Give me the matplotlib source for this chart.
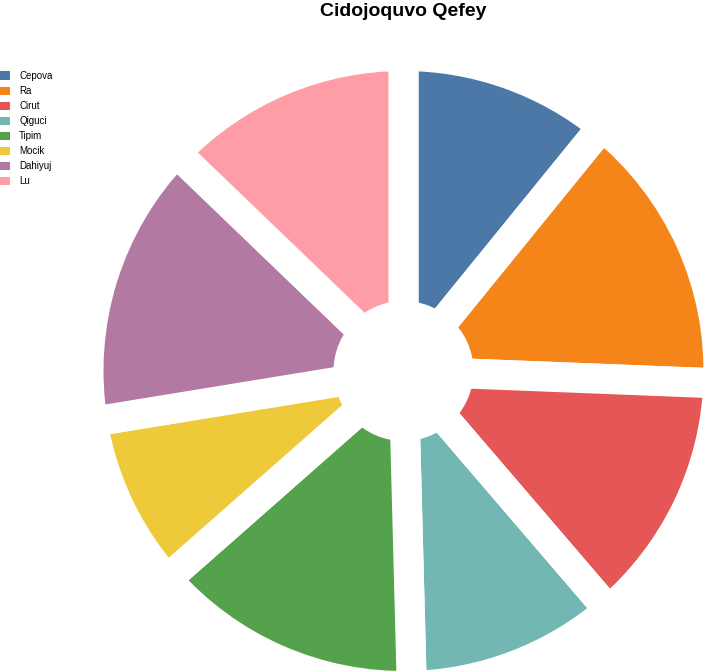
import matplotlib
matplotlib.use("Agg")
import matplotlib.pyplot as plt

plt.rcParams['font.family'] = ['Liberation Sans', 'DejaVu Sans']

labels = ["Cepova", "Ra", "Cirut", "Qiguci", "Tipim", "Mocik", "Dahiyuj", "Lu"]
values = [39, 53, 47, 39, 50, 32, 53, 46]
colors = ["#4c78a8", "#f58518", "#e45756", "#72b7b2",
          "#54a24b", "#eeca3b", "#b279a2", "#ff9da6"]

W, H = 704, 671
fig = plt.figure(figsize=(W / 100, H / 100), dpi=100)
ax = fig.add_axes([0, 0, 1, 1])

# pie in pixel units; white strokes make the gaps between slices
cx, cy = 403.5, H - 371
r_out, r_in = 315, 55
wedges, _ = ax.pie(values, colors=colors, startangle=90, counterclock=False,
                   center=(cx, cy), radius=r_out, frame=True,
                   wedgeprops=dict(width=r_out - r_in, edgecolor="white",
                                   linewidth=21.6))
ax.set_xlim(0, W)
ax.set_ylim(0, H)
ax.set_aspect("equal")
ax.axis("off")

leg = ax.legend(wedges, labels, loc="upper left",
                bbox_to_anchor=(0, 1 - 71 / H), bbox_transform=fig.transFigure,
                frameon=False, fontsize=7, handlelength=1.03, handleheight=0.95,
                handletextpad=0.93, labelspacing=0.52, borderpad=0,
                borderaxespad=0)
for h in leg.legend_handles:
    h.set_linewidth(0)

fig.text(403.5 / W, 1 - 11 / H, "Cidojoquvo Qefey", ha="center", va="center",
         fontsize=14, fontweight="bold")

fig.savefig("out.png", dpi=100)
